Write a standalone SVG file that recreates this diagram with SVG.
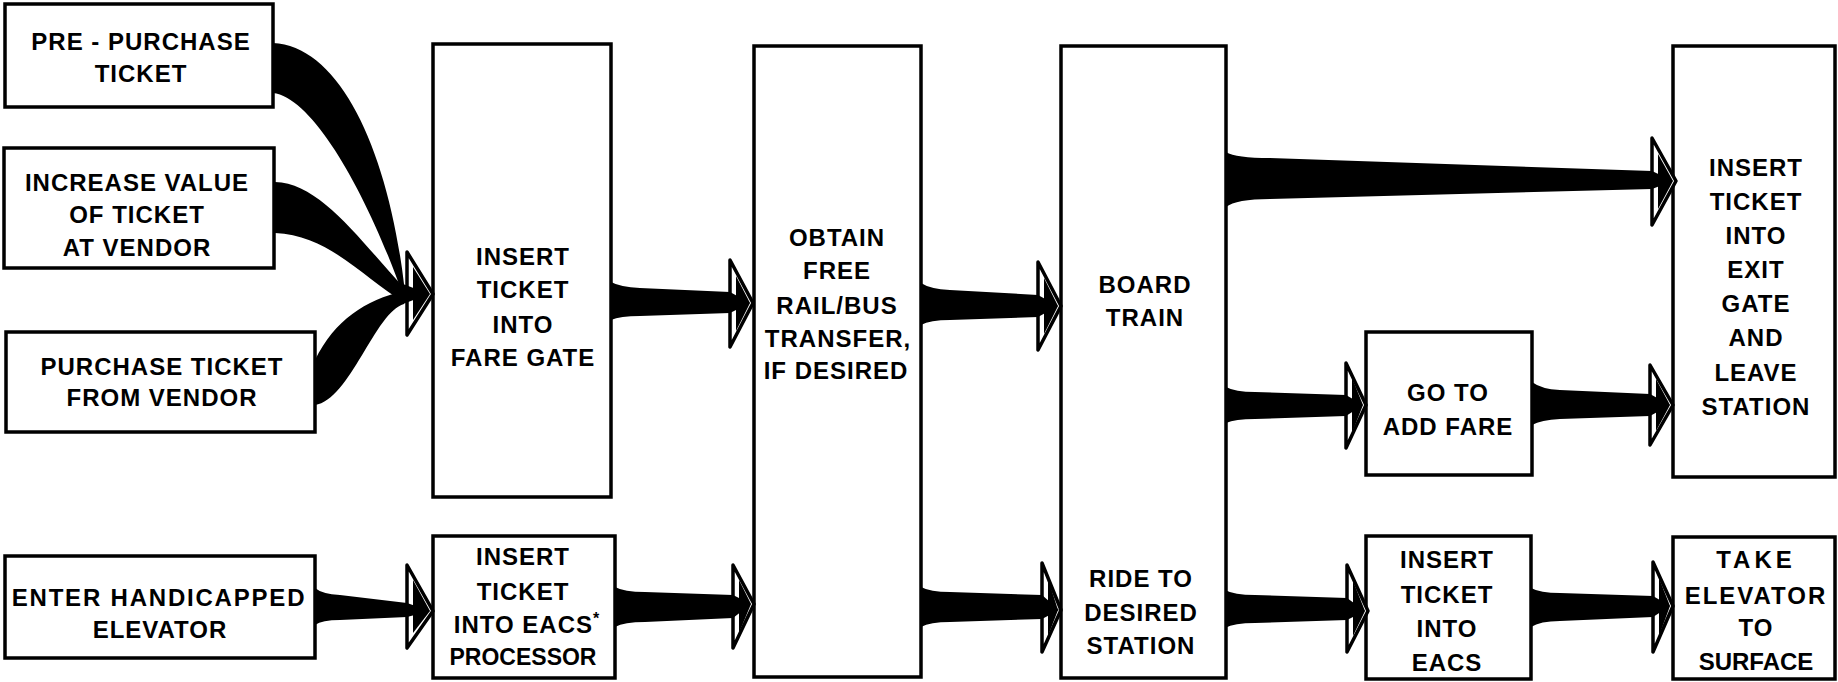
<svg xmlns="http://www.w3.org/2000/svg" width="1838" height="682" viewBox="0 0 1838 682">
<style>
.box{fill:#fff;stroke:#000;stroke-width:3.5}
.t{font-family:"Liberation Sans",Arial,Helvetica,sans-serif;font-weight:bold;font-size:24px;letter-spacing:1px;text-anchor:middle;fill:#000}
.head{fill:#fff;stroke:#000;stroke-width:3.5;stroke-linejoin:round}
.shaft{fill:#000;stroke:none}
</style>
<rect width="1838" height="682" fill="#fff"/>
<g id="n1"><rect class="box" x="5" y="4" width="268" height="103"/>
<text class="t" x="141" y="50">PRE - PURCHASE</text><text class="t" x="141" y="82">TICKET</text></g>
<g id="n2"><rect class="box" x="4" y="148" width="270" height="120"/>
<text class="t" x="137" y="191">INCREASE VALUE</text><text class="t" x="137" y="223">OF TICKET</text><text class="t" x="137" y="256">AT VENDOR</text></g>
<g id="n3"><rect class="box" x="6" y="332" width="309" height="100"/>
<text class="t" x="162" y="375">PURCHASE TICKET</text><text class="t" x="162" y="406">FROM VENDOR</text></g>
<g id="n4"><rect class="box" x="5" y="556" width="310" height="102"/>
<text class="t" x="159" y="606" style="letter-spacing:1.8px">ENTER HANDICAPPED</text><text class="t" x="160" y="638">ELEVATOR</text></g>
<g id="n5"><rect class="box" x="433" y="44" width="178" height="453"/>
<text class="t" x="523" y="265">INSERT</text><text class="t" x="523" y="298">TICKET</text><text class="t" x="523" y="333">INTO</text><text class="t" x="523" y="366">FARE GATE</text></g>
<g id="n6"><rect class="box" x="433" y="536" width="182" height="142"/>
<text class="t" x="523" y="565">INSERT</text><text class="t" x="523" y="600">TICKET</text><text class="t" x="527" y="633">INTO EACS<tspan font-size="16" dy="-9">*</tspan></text><text class="t" x="523" y="665" style="font-size:23px;letter-spacing:0">PROCESSOR</text></g>
<g id="n7"><rect class="box" x="754" y="46" width="167" height="631"/>
<text class="t" x="837" y="246">OBTAIN</text><text class="t" x="837" y="279">FREE</text><text class="t" x="837" y="314">RAIL/BUS</text><text class="t" x="838" y="347">TRANSFER,</text><text class="t" x="836" y="379">IF DESIRED</text></g>
<g id="n8"><rect class="box" x="1061" y="46" width="165" height="632"/>
<text class="t" x="1145" y="293">BOARD</text><text class="t" x="1145" y="326">TRAIN</text>
<text class="t" x="1141" y="587">RIDE TO</text><text class="t" x="1141" y="621">DESIRED</text><text class="t" x="1141" y="654">STATION</text></g>
<g id="n9"><rect class="box" x="1366" y="332" width="166" height="143"/>
<text class="t" x="1448" y="401">GO TO</text><text class="t" x="1448" y="435">ADD FARE</text></g>
<g id="n10"><rect class="box" x="1673" y="46" width="162" height="431"/>
<text class="t" x="1756" y="176">INSERT</text><text class="t" x="1756" y="210">TICKET</text><text class="t" x="1756" y="244">INTO</text><text class="t" x="1756" y="278">EXIT</text><text class="t" x="1756" y="312">GATE</text><text class="t" x="1756" y="346">AND</text><text class="t" x="1756" y="381">LEAVE</text><text class="t" x="1756" y="415">STATION</text></g>
<g id="n11"><rect class="box" x="1366" y="536" width="165" height="143"/>
<text class="t" x="1447" y="568">INSERT</text><text class="t" x="1447" y="603">TICKET</text><text class="t" x="1447" y="637">INTO</text><text class="t" x="1447" y="671">EACS</text></g>
<g id="n12"><rect class="box" x="1673" y="537" width="162" height="142"/>
<text class="t" x="1756" y="568" style="letter-spacing:4px">TAKE</text><text class="t" x="1756" y="604" style="letter-spacing:2px">ELEVATOR</text><text class="t" x="1756" y="636">TO</text><text class="t" x="1756" y="670" style="letter-spacing:0">SURFACE</text></g>
<g id="connectors">
<path class="head" d="M407,252 L433,294 L407,335 Z"/>
<path class="head" d="M730,260 L753,303 L730,347 Z"/>
<path class="head" d="M1038,262 L1061,306 L1038,350 Z"/>
<path class="head" d="M1652,138 L1676,181 L1652,225 Z"/>
<path class="head" d="M1346,363 L1366,405 L1346,448 Z"/>
<path class="head" d="M1650,365 L1673,405 L1650,445 Z"/>
<path class="head" d="M407,565 L433,611 L407,648 Z"/>
<path class="head" d="M733,565 L754,604 L733,648 Z"/>
<path class="head" d="M1042,563 L1061,610 L1042,652 Z"/>
<path class="head" d="M1347,565 L1368,611 L1347,652 Z"/>
<path class="head" d="M1653,562 L1673,606 L1653,652 Z"/>
<path class="shaft" d="M413,267 L430,294 L413,320 Z"/>
<path class="shaft" d="M736,276 L750,303 L736,331 Z"/>
<path class="shaft" d="M1044,278 L1058,306 L1044,334 Z"/>
<path class="shaft" d="M1658,154 L1673,181 L1658,209 Z"/>
<path class="shaft" d="M1352,378 L1363,405 L1352,433 Z"/>
<path class="shaft" d="M1656,379 L1670,405 L1656,431 Z"/>
<path class="shaft" d="M413,580 L430,611 L413,633 Z"/>
<path class="shaft" d="M739,580 L751,604 L739,633 Z"/>
<path class="shaft" d="M1048,579 L1058,610 L1048,636 Z"/>
<path class="shaft" d="M1353,581 L1365,611 L1353,636 Z"/>
<path class="shaft" d="M1659,578 L1670,606 L1659,636 Z"/>
<path class="shaft" d="M273,43 C340,46 388,150 404,284 L404,298 C370,200 315,98 273,93 Z"/>
<path class="shaft" d="M275,182 C320,183 360,240 404,288 L404,302 C365,280 330,235 275,233 Z"/>
<path class="shaft" d="M315,360 C335,320 365,300 404,291 L404,304 C375,312 350,400 315,405 Z"/>
<path class="shaft" d="M403,284 L429,294 L403,304 Z"/>
<path class="shaft" d="M611,282 Q620,287 640,288 L730,292 L750,303 L730,313 L640,316 Q620,316 611,320 Z"/>
<path class="shaft" d="M921,283 Q930,289 950,290 L1038,295 L1058,306 L1038,317 L950,320 Q930,320 921,325 Z"/>
<path class="shaft" d="M1226,152 Q1236,158 1270,158 L1652,171 L1673,181 L1652,189 L1270,199 Q1236,199 1226,207 Z"/>
<path class="shaft" d="M1226,387 Q1235,392 1255,392 L1346,395 L1363,405 L1346,416 L1255,419 Q1235,419 1226,423 Z"/>
<path class="shaft" d="M1532,382 Q1541,389 1560,390 L1650,394 L1670,405 L1650,416 L1560,419 Q1541,420 1532,425 Z"/>
<path class="shaft" d="M315,588 Q322,594 340,595 L407,603 L430,611 L407,617 L340,620 Q322,620 315,625 Z"/>
<path class="shaft" d="M615,587 Q624,592 645,592 L733,595 L751,604 L733,618 L645,622 Q624,622 615,627 Z"/>
<path class="shaft" d="M921,587 Q930,592 950,592 L1042,595 L1059,610 L1042,619 L950,622 Q930,622 921,627 Z"/>
<path class="shaft" d="M1225,590 Q1234,595 1255,595 L1347,598 L1365,611 L1347,620 L1255,623 Q1234,623 1225,628 Z"/>
<path class="shaft" d="M1531,588 Q1540,593 1560,593 L1653,596 L1670,606 L1653,617 L1560,621 Q1540,621 1531,627 Z"/>
</g>
</svg>
